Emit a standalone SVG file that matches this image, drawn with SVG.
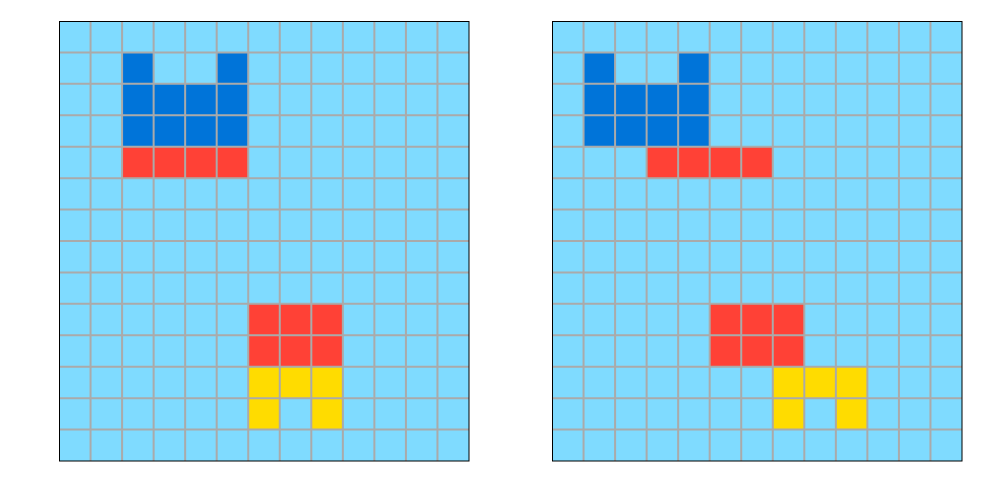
<svg xmlns="http://www.w3.org/2000/svg" xmlns:xlink="http://www.w3.org/1999/xlink" width="1000" height="500" viewBox="0 0 1000 500">
<style>
.bg{fill:#7FDBFF}
.b{fill:#0074D9}
.r{fill:#FF4136}
.y{fill:#FFDC00}
.grid{fill:none;stroke:#AAAAAA;stroke-width:2}
.frame{fill:none;stroke:#000000;stroke-width:1}
</style>
<defs>
<path id="gridlines" class="grid" d="M31.54 0V440M63.08 0V440M94.62 0V440M126.15 0V440M157.69 0V440M189.23 0V440M220.77 0V440M252.31 0V440M283.85 0V440M315.38 0V440M346.92 0V440M378.46 0V440M0 31.43H410M0 62.86H410M0 94.29H410M0 125.71H410M0 157.14H410M0 188.57H410M0 220H410M0 251.43H410M0 282.86H410M0 314.29H410M0 345.71H410M0 377.14H410M0 408.57H410"/>
</defs>
<rect width="1000" height="500" fill="#FFFFFF"/>
<g id="left-grid">
<rect class="bg" x="59" y="21" width="410" height="440"/>
<g transform="translate(59 21) scale(31.538 31.4286)">
<rect class="b" x="2" y="1" width="1" height="1"/>
<rect class="b" x="5" y="1" width="1" height="1"/>
<rect class="b" x="2" y="2" width="4" height="2"/>
<rect class="r" x="2" y="4" width="4" height="1"/>
<rect class="r" x="6" y="9" width="3" height="2"/>
<rect class="y" x="6" y="11" width="3" height="1"/>
<rect class="y" x="6" y="12" width="1" height="1"/>
<rect class="y" x="8" y="12" width="1" height="1"/>
</g>
<use xlink:href="#gridlines" href="#gridlines" transform="translate(59 21)"/>
<rect class="frame" x="59.5" y="21.5" width="409.5" height="439.5"/>
</g>
<g id="right-grid">
<rect class="bg" x="552" y="21" width="410" height="440"/>
<g transform="translate(552 21) scale(31.538 31.4286)">
<rect class="b" x="1" y="1" width="1" height="1"/>
<rect class="b" x="4" y="1" width="1" height="1"/>
<rect class="b" x="1" y="2" width="4" height="2"/>
<rect class="r" x="3" y="4" width="4" height="1"/>
<rect class="r" x="5" y="9" width="3" height="2"/>
<rect class="y" x="7" y="11" width="3" height="1"/>
<rect class="y" x="7" y="12" width="1" height="1"/>
<rect class="y" x="9" y="12" width="1" height="1"/>
</g>
<use xlink:href="#gridlines" href="#gridlines" transform="translate(552 21)"/>
<rect class="frame" x="552.5" y="21.5" width="409.5" height="439.5"/>
</g>
<g id="connectors"></g>
</svg>
